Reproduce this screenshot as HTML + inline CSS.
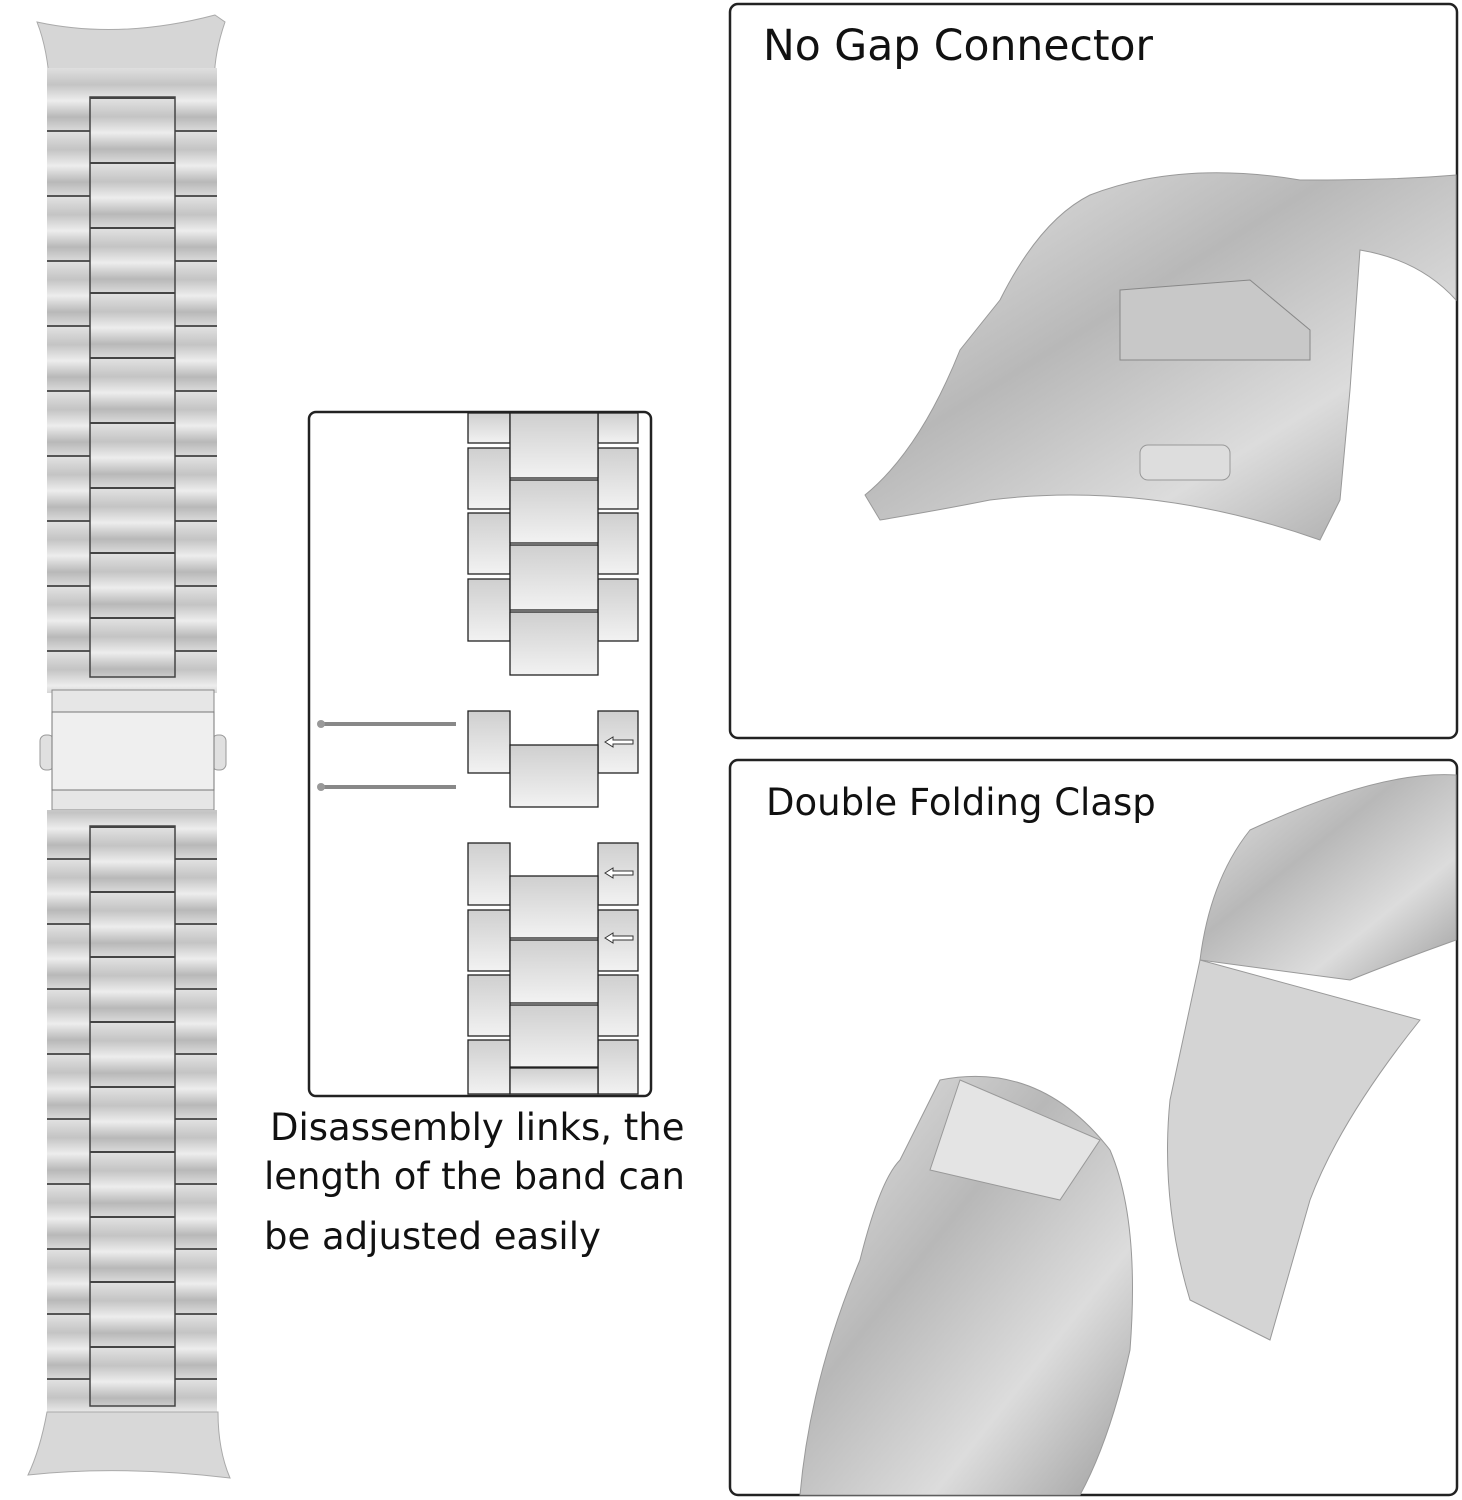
<!DOCTYPE html>
<html><head><meta charset="utf-8"><style>
html,body{margin:0;padding:0;background:#fff;}
body{width:1462px;height:1500px;position:relative;overflow:hidden;font-family:"DejaVu Sans","Liberation Sans",sans-serif;color:#111;}
.t{position:absolute;white-space:nowrap;}
</style></head><body>
<svg width="1462" height="1500" style="position:absolute;left:0;top:0">
<defs>
<linearGradient id="lk" x1="0" y1="0" x2="0" y2="1">
<stop offset="0" stop-color="#e4e4e4"/><stop offset="0.3" stop-color="#c4c4c4"/><stop offset="0.55" stop-color="#ededed"/><stop offset="0.8" stop-color="#b8b8b8"/><stop offset="1" stop-color="#d8d8d8"/></linearGradient>
<linearGradient id="sm" x1="0" y1="0" x2="0" y2="1">
<stop offset="0" stop-color="#cfcfcf"/><stop offset="1" stop-color="#f2f2f2"/></linearGradient>
<linearGradient id="mt" x1="0" y1="0" x2="1" y2="1">
<stop offset="0" stop-color="#e8e8e8"/><stop offset="0.4" stop-color="#b8b8b8"/><stop offset="0.7" stop-color="#dcdcdc"/><stop offset="1" stop-color="#9e9e9e"/></linearGradient>
<pattern id="pc" x="0" y="97" width="100" height="65" patternUnits="userSpaceOnUse">
<rect width="100" height="65" fill="url(#lk)"/><rect width="100" height="2" fill="#444"/></pattern>
<pattern id="ps" x="0" y="65" width="100" height="65" patternUnits="userSpaceOnUse">
<rect width="100" height="65" fill="url(#lk)"/><rect width="100" height="2" fill="#555"/></pattern>
<pattern id="pc2" x="0" y="826" width="100" height="65" patternUnits="userSpaceOnUse">
<rect width="100" height="65" fill="url(#lk)"/><rect width="100" height="2" fill="#444"/></pattern>
<pattern id="ps2" x="0" y="858" width="100" height="65" patternUnits="userSpaceOnUse">
<rect width="100" height="65" fill="url(#lk)"/><rect width="100" height="2" fill="#555"/></pattern>
</defs>
<path d="M37 22 Q120 40 215 15 L225 22 Q212 60 215 90 L50 90 Q48 50 37 22Z" fill="#d6d6d6" stroke="#aaa"/>
<rect x="47" y="68" width="170" height="625" fill="url(#ps)"/>
<rect x="90" y="97" width="85" height="580" fill="url(#pc)" stroke="#444" stroke-width="1.5"/>
<rect x="40" y="735" width="14" height="35" rx="6" fill="#e0e0e0" stroke="#999"/>
<rect x="212" y="735" width="14" height="35" rx="6" fill="#e0e0e0" stroke="#999"/>
<rect x="52" y="690" width="162" height="120" fill="#e6e6e6" stroke="#888"/>
<rect x="52" y="712" width="162" height="78" fill="#efefef" stroke="#777"/>
<rect x="47" y="810" width="170" height="620" fill="url(#ps2)"/>
<rect x="90" y="826" width="85" height="580" fill="url(#pc2)" stroke="#444" stroke-width="1.5"/>
<path d="M47 1412 Q40 1450 28 1475 Q120 1465 230 1478 Q218 1450 218 1412 Z" fill="#d8d8d8" stroke="#aaa"/>
<rect x="309" y="412" width="342" height="684" rx="7" fill="none" stroke="#222" stroke-width="2.5"/>
<g stroke="#222" stroke-width="1.3" fill="url(#sm)">
<rect x="468" y="413" width="42" height="30"/><rect x="598" y="413" width="40" height="30"/>
<rect x="468" y="448" width="42" height="61"/><rect x="598" y="448" width="40" height="61"/>
<rect x="468" y="513" width="42" height="61"/><rect x="598" y="513" width="40" height="61"/>
<rect x="468" y="579" width="42" height="62"/><rect x="598" y="579" width="40" height="62"/>
<rect x="510" y="413" width="88" height="65"/><rect x="510" y="480" width="88" height="63"/>
<rect x="510" y="545" width="88" height="65"/><rect x="510" y="612" width="88" height="63"/>
<rect x="468" y="711" width="42" height="62"/><rect x="598" y="711" width="40" height="62"/>
<rect x="510" y="745" width="88" height="62"/>
<rect x="468" y="843" width="42" height="62"/><rect x="598" y="843" width="40" height="62"/>
<rect x="468" y="910" width="42" height="61"/><rect x="598" y="910" width="40" height="61"/>
<rect x="468" y="975" width="42" height="61"/><rect x="598" y="975" width="40" height="61"/>
<rect x="468" y="1040" width="42" height="54"/><rect x="598" y="1040" width="40" height="54"/>
<rect x="510" y="876" width="88" height="62"/><rect x="510" y="940" width="88" height="63"/>
<rect x="510" y="1005" width="88" height="62"/><rect x="510" y="1068" width="88" height="26"/>
</g>
<g stroke="#888" stroke-width="4"><line x1="320" y1="724" x2="456" y2="724"/><line x1="320" y1="787" x2="456" y2="787"/></g>
<circle cx="321" cy="724" r="4" fill="#999"/><circle cx="321" cy="787" r="4" fill="#999"/>
<g fill="#fff" stroke="#333" stroke-width="1"><path d="M605 742 l8 -5 v3 h20 v4 h-20 v3z"/><path d="M605 873 l8 -5 v3 h20 v4 h-20 v3z"/><path d="M605 938 l8 -5 v3 h20 v4 h-20 v3z"/></g>
<rect x="730" y="4" width="727" height="734" rx="8" fill="none" stroke="#222" stroke-width="2.5"/>
<rect x="730" y="760" width="727" height="735" rx="8" fill="none" stroke="#222" stroke-width="2.5"/>
<path d="M1090 195 Q1180 160 1300 180 Q1400 180 1456 175 L1456 300 Q1420 260 1360 250 L1350 390 L1340 500 L1320 540 Q1150 480 990 500 Q940 510 880 520 L865 495 Q920 450 960 350 L1000 300 Q1040 220 1090 195Z" fill="url(#mt)" stroke="#999"/>
<path d="M1120 290 L1250 280 L1310 330 L1310 360 L1120 360Z" fill="#c8c8c8" stroke="#888"/>
<rect x="1140" y="445" width="90" height="35" rx="8" fill="#ddd" stroke="#999"/>
<path d="M1250 830 Q1380 770 1456 775 L1456 940 Q1400 960 1350 980 L1200 960 Q1210 880 1250 830Z" fill="url(#mt)" stroke="#999"/>
<path d="M1200 960 L1420 1020 Q1340 1120 1310 1200 Q1290 1270 1270 1340 L1190 1300 Q1160 1200 1170 1100 Z" fill="#d4d4d4" stroke="#999"/>
<path d="M940 1080 Q1040 1060 1110 1150 Q1140 1220 1130 1350 Q1110 1440 1080 1495 L800 1495 Q810 1380 860 1260 Q880 1180 900 1160 Z" fill="url(#mt)" stroke="#999"/>
<path d="M960 1080 L1100 1140 L1060 1200 L930 1170Z" fill="#e4e4e4" stroke="#999"/>
</svg>
<div class="t" style="left:763px;top:22px;font-size:42.5px;">No Gap Connector</div>
<div class="t" style="left:766px;top:781px;font-size:37px;">Double Folding Clasp</div>
<div class="t" style="left:270px;top:1106px;font-size:37px;">Disassembly links, the</div>
<div class="t" style="left:264px;top:1155px;font-size:37px;">length of the band can</div>
<div class="t" style="left:264px;top:1215px;font-size:37px;">be adjusted easily</div>
</body></html>
